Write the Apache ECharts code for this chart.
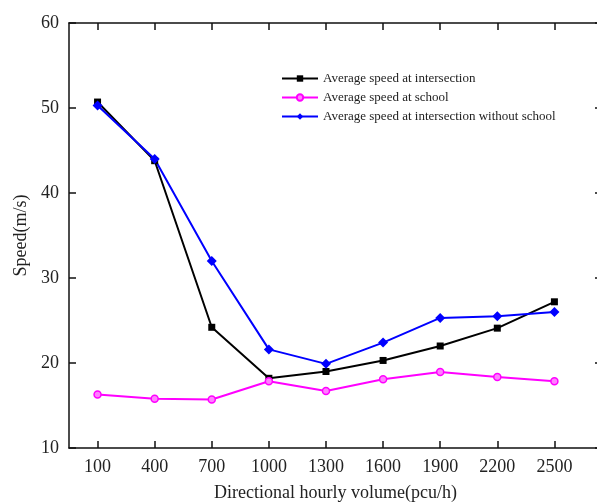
<!DOCTYPE html>
<html><head><meta charset="utf-8">
<script src="https://cdn.jsdelivr.net/npm/echarts@6/dist/echarts.min.js"></script>
<style>html,body{margin:0;padding:0;background:#fff}#c{width:597px;height:502px}</style>
</head><body><div id="c"></div>
<script>
const volumes = [100, 400, 700, 1000, 1300, 1600, 1900, 2200, 2500];
const speedIntersection = [50.7, 43.8, 24.2, 18.2, 19.0, 20.3, 22.0, 24.1, 27.2];
const speedSchool = [16.3, 15.8, 15.7, 17.85, 16.7, 18.1, 18.95, 18.35, 17.85];
const speedNoSchool = [50.3, 44.0, 32.0, 21.6, 19.9, 22.4, 25.3, 25.5, 26.0];
const yTicks = [10, 20, 30, 40, 50, 60];
const seriesNames = ['Average speed at intersection', 'Average speed at school', 'Average speed at intersection without school'];

const font = 'Liberation Serif';
const pair = arr => volumes.map((v, i) => [v, arr[i]]);
const chart = echarts.init(document.getElementById('c'));
const axLine = {show: true, onZero: false, lineStyle: {color: '#111', width: 1.5}};
chart.setOption({
  backgroundColor: '#fff',
  animation: false,
  grid: {left: 69, width: 533, top: 23, height: 425, containLabel: false, outerBoundsMode: 'none'},
  legend: {
    orient: 'vertical', left: 276, top: 67, itemGap: 6, itemWidth: 36, itemHeight: 8,
    textStyle: {fontFamily: font, fontSize: 13, color: '#222'},
    data: seriesNames
  },
  xAxis: [{
    type: 'value', min: -50, max: 2750, position: 'bottom',
    axisLine: axLine, splitLine: {show: false},
    axisTick: {show: true, inside: true, length: 7, customValues: volumes, lineStyle: {color: '#111', width: 1.5}},
    axisLabel: {customValues: volumes, formatter: v => String(v), fontFamily: font, fontSize: 18, color: '#222', margin: 10},
    name: 'Directional hourly volume(pcu/h)', nameLocation: 'middle', nameGap: 36,
    nameTextStyle: {fontFamily: font, fontSize: 18, color: '#222'}
  }, {
    type: 'value', min: -50, max: 2750, position: 'top',
    axisLine: axLine, splitLine: {show: false},
    axisTick: {show: true, inside: true, length: 7, customValues: volumes, lineStyle: {color: '#111', width: 1.5}},
    axisLabel: {show: false}
  }],
  yAxis: [{
    type: 'value', min: 10, max: 60, interval: 10, position: 'left',
    axisLine: axLine, splitLine: {show: false},
    axisTick: {show: true, inside: true, length: 7, lineStyle: {color: '#111', width: 1.5}},
    axisLabel: {fontFamily: font, fontSize: 18, color: '#222', margin: 10, formatter: v => yTicks.includes(v) ? String(v) : ''},
    name: 'Speed(m/s)', nameLocation: 'middle', nameGap: 39, nameRotate: 90,
    nameTextStyle: {fontFamily: font, fontSize: 18, color: '#222'}
  }, {
    type: 'value', min: 10, max: 60, interval: 10, position: 'right',
    axisLine: axLine, splitLine: {show: false},
    axisTick: {show: true, inside: true, length: 7, lineStyle: {color: '#111', width: 1.5}},
    axisLabel: {show: false}
  }],
  series: [{
    name: seriesNames[0], type: 'line', data: pair(speedIntersection),
    symbol: 'rect', symbolSize: 7,
    lineStyle: {color: '#000', width: 2}, itemStyle: {color: '#000'}
  }, {
    name: seriesNames[1], type: 'line', data: pair(speedSchool),
    symbol: 'circle', symbolSize: 7,
    lineStyle: {color: '#ff00ff', width: 2}, itemStyle: {color: '#ff80ff', borderColor: '#ff00ff', borderWidth: 1.5}
  }, {
    name: seriesNames[2], type: 'line', data: pair(speedNoSchool),
    symbol: 'diamond', symbolSize: 10,
    lineStyle: {color: '#0000ff', width: 2}, itemStyle: {color: '#0000ff'}
  }]
});
</script></body></html>
